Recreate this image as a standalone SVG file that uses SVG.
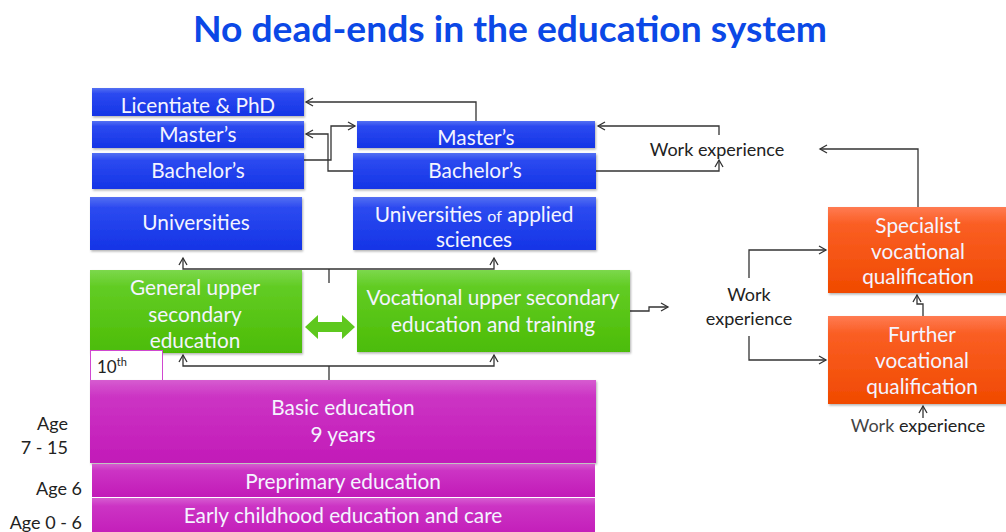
<svg xmlns="http://www.w3.org/2000/svg" width="1006" height="532" viewBox="0 0 1006 532">
<defs>
<linearGradient id="gBlue" x1="0" y1="0" x2="0" y2="1"><stop offset="0" stop-color="#5470f2"/><stop offset="0.2" stop-color="#2c4af0"/><stop offset="1" stop-color="#1434e6"/></linearGradient>
<linearGradient id="gGreen" x1="0" y1="0" x2="0" y2="1"><stop offset="0" stop-color="#7cd84c"/><stop offset="0.2" stop-color="#62cc24"/><stop offset="1" stop-color="#4cbc06"/></linearGradient>
<linearGradient id="gOrange" x1="0" y1="0" x2="0" y2="1"><stop offset="0" stop-color="#ff7b52"/><stop offset="0.2" stop-color="#fa5e24"/><stop offset="1" stop-color="#f04a00"/></linearGradient>
<linearGradient id="gMag" x1="0" y1="0" x2="0" y2="1"><stop offset="0" stop-color="#d65cd0"/><stop offset="0.2" stop-color="#cc34c4"/><stop offset="1" stop-color="#c21ab8"/></linearGradient>
<filter id="sh" x="-5%" y="-10%" width="110%" height="130%"><feDropShadow dx="1" dy="1.5" stdDeviation="1" flood-color="#000" flood-opacity="0.3"/></filter>
<marker id="ah" markerWidth="10" markerHeight="10" refX="8" refY="5" orient="auto" markerUnits="userSpaceOnUse"><path d="M1,1 L8,5 L1,9" fill="none" stroke="#333" stroke-width="1.3"/></marker>
</defs>
<style>
text{font-family:Lato,"Open Sans","Liberation Sans",sans-serif}
.bx{filter:url(#sh)}
.blue{fill:url(#gBlue)}
.green{fill:url(#gGreen)}
.orange{fill:url(#gOrange)}
.mag{fill:url(#gMag)}
.lb{fill:#f4f4ff;font-size:20.8px;text-anchor:middle}
.dk{fill:#222;font-size:18px}
.cn{fill:none;stroke:#333;stroke-width:1.3}
.ar{marker-end:url(#ah)}
</style>
<rect width="1006" height="532" fill="#fff"/>
<text x="510" y="42" font-size="36" font-weight="bold" fill="#0b48e6" text-anchor="middle" textLength="634" lengthAdjust="spacingAndGlyphs">No dead-ends in the education system</text>

<g id="connectors">
<path class="cn ar" d="M476 121 V102 H306"/>
<path class="cn ar" d="M301 160 H331 V126 H355"/>
<path class="cn ar" d="M353 171 H328 V134 H306"/>
<path class="cn ar" d="M596 171 H719 V160"/>
<path class="cn ar" d="M719 135 V126 H598"/>
<path class="cn ar" d="M918 207 V149 H820"/>
<path class="cn ar" d="M749 278 V250 H826"/>
<path class="cn ar" d="M749 336 V360 H826"/>
<path class="cn ar" d="M923 316 V304 H917 V295"/>
<path class="cn ar" d="M923 418 V406"/>
<path class="cn" d="M329 283 V269"/>
<path class="cn ar" d="M329 269 H183 V258"/>
<path class="cn ar" d="M329 269 H494 V258"/>
<path class="cn" d="M329 380 V366"/>
<path class="cn ar" d="M329 366 H183 V355"/>
<path class="cn ar" d="M329 366 H494 V355"/>
<path class="cn ar" d="M630 311 H649 V307 H668"/>
<polygon points="305,327 318,315 318,322 342,322 342,315 355,327 342,339 342,332 318,332 318,339" fill="#5ec81e"/>
</g>

<g id="licentiate"><rect class="bx blue" x="92" y="88" width="212" height="28"/><text class="lb" x="198" y="113" font-size="20.3">Licentiate &amp; PhD</text></g>
<g id="masters-univ"><rect class="bx blue" x="92" y="121" width="212" height="27"/><text class="lb" x="198" y="142">Master’s</text></g>
<g id="bachelors-univ"><rect class="bx blue" x="92" y="153" width="212" height="36"/><text class="lb" x="198" y="178">Bachelor’s</text></g>
<g id="universities"><rect class="bx blue" x="90" y="197" width="212" height="53"/><text class="lb" x="196" y="230">Universities</text></g>
<g id="masters-uas"><rect class="bx blue" x="357" y="121" width="238" height="27"/><text class="lb" x="476" y="145">Master’s</text></g>
<g id="bachelors-uas"><rect class="bx blue" x="353" y="153" width="243" height="36"/><text class="lb" x="475" y="178">Bachelor’s</text></g>
<g id="uas"><rect class="bx blue" x="353" y="197" width="243" height="53"/><text class="lb" x="474" y="222">Universities <tspan font-size="16">of</tspan> applied</text><text class="lb" x="474" y="247">sciences</text></g>

<g id="general-upper"><rect class="bx green" x="90" y="270" width="212" height="83"/><text class="lb" x="195" y="295">General upper</text><text class="lb" x="195" y="322">secondary</text><text class="lb" x="195" y="348">education</text></g>
<g id="vocational-upper"><rect class="bx green" x="357" y="270" width="273" height="82"/><text class="lb" x="493" y="305">Vocational upper secondary</text><text class="lb" x="493" y="332">education and training</text></g>

<g id="tenth"><rect x="90.5" y="350.5" width="72" height="32" fill="#fff" stroke="#d048d0" stroke-width="1"/><text x="97" y="373" font-size="17" fill="#222">10<tspan font-size="11" dy="-7">th</tspan></text></g>

<g id="basic"><rect class="bx mag" x="90" y="380" width="506" height="83"/><text class="lb" x="343" y="415">Basic education</text><text class="lb" x="343" y="442">9 years</text></g>
<g id="preprimary"><rect class="mag" x="92" y="464" width="503" height="33"/><text class="lb" x="343" y="489">Preprimary education</text></g>
<g id="early"><rect class="mag" x="92" y="498" width="503" height="40"/><text class="lb" x="343" y="523">Early childhood education and care</text></g>

<g id="ages">
<text class="dk" x="68" y="430" text-anchor="end">Age</text>
<text class="dk" x="68" y="454" text-anchor="end">7 - 15</text>
<text class="dk" x="82" y="495" text-anchor="end">Age 6</text>
<text class="dk" x="82" y="529" text-anchor="end">Age 0 - 6</text>
</g>

<g id="work-exp-top"><text class="dk" x="717" y="156" text-anchor="middle">Work experience</text></g>
<g id="work-exp-mid"><text class="dk" x="749" y="301" text-anchor="middle">Work</text><text class="dk" x="749" y="325" text-anchor="middle">experience</text></g>
<g id="work-exp-bottom"><text class="dk" x="918" y="432" text-anchor="middle" font-size="17"><tspan fill="#444">Work</tspan> experience</text></g>

<g id="specialist"><rect class="bx orange" x="828" y="207" width="180" height="86"/><text class="lb" x="918" y="233" font-size="21">Specialist</text><text class="lb" x="918" y="259" font-size="21">vocational</text><text class="lb" x="918" y="284" font-size="21">qualification</text></g>
<g id="further"><rect class="bx orange" x="828" y="316" width="180" height="88"/><text class="lb" x="922" y="342" font-size="21">Further</text><text class="lb" x="922" y="368" font-size="21">vocational</text><text class="lb" x="922" y="394" font-size="21">qualification</text></g>
</svg>
